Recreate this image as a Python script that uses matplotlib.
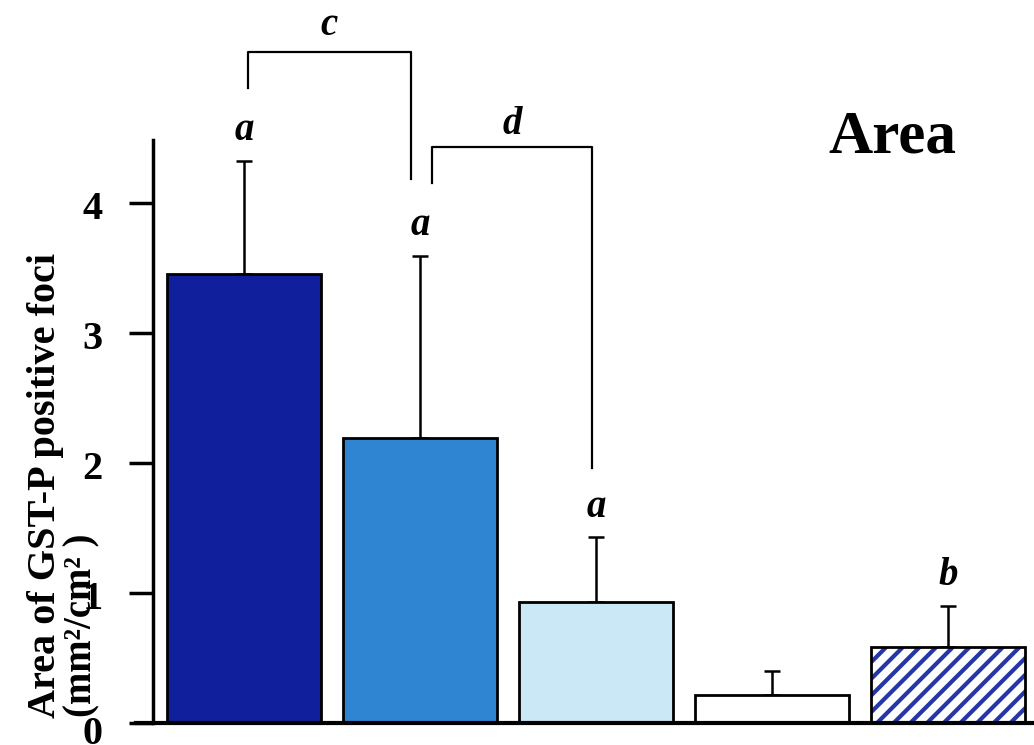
import matplotlib.pyplot as plt
import numpy as np

plt.rcParams['font.family'] = ['Liberation Serif', 'DejaVu Serif']
plt.rcParams['font.weight'] = 'bold'
plt.rcParams['hatch.linewidth'] = 3.0

# group means and SD (upper only)
means = [3.45, 2.19, 0.93, 0.215, 0.585]
sds = [0.87, 1.40, 0.50, 0.185, 0.315]
letters = ['a', 'a', 'a', '', 'b']
yticks = [0, 1, 2, 3, 4]

fill = ['#101f9c', '#2f85d2', '#cbe8f6', 'white', 'white']
hatch = ['', '', '', '', '//']
hatch_col = '#2436a8'

fig = plt.figure(figsize=(10.34, 7.45), dpi=100)
ax = fig.add_axes([0.148, 0.0295, 0.852, 0.7825])

x = np.arange(len(means))
# fill + hatch layer (hatch takes the edge colour), then black outlines
ax.bar(x, means, width=0.875, color=fill, edgecolor=hatch_col,
       linewidth=0, hatch=hatch, zorder=2)
ax.bar(x, means, width=0.875, fill=False, edgecolor='black',
       linewidth=2, zorder=3)

ax.errorbar(x, means, yerr=[np.zeros(len(sds)), sds], fmt='none',
            ecolor='black', elinewidth=1.8, capsize=6, capthick=1.8, zorder=1)

for xi, m, s, lab in zip(x, means, sds, letters):
    if lab:
        ax.text(xi, m + s + 0.23, lab, ha='center', va='center',
                fontsize=28, style='italic', weight='bold')

# comparison brackets
def bracket(x0, x1, top, y0, y1, label, ly):
    ax.plot([x0, x0, x1, x1], [y0, top, top, y1], color='black', lw=1.6,
            clip_on=False)
    ax.text((x0 + x1) / 2, ly, label, ha='center', va='center', fontsize=28,
            style='italic', weight='bold', clip_on=False)

bracket(0.02, 0.95, 5.16, 4.88, 4.18, 'c', 5.36)
bracket(1.07, 1.98, 4.43, 4.15, 1.96, 'd', 4.60)

ax.set_xlim(-0.517, 4.49)
ax.set_ylim(0, 4.48)
ax.set_xticks([])
ax.set_yticks(yticks)
ax.set_yticklabels([])
ax.tick_params(axis='y', direction='out', length=17, width=2.5)
# tick labels sit a little below their ticks
for t in yticks:
    dy = 0.09 if t == 0 else 0.05
    ax.text(-0.057, t - dy, str(t), transform=ax.get_yaxis_transform(),
            ha='right', va='center', fontsize=29, weight='bold')
ax.spines['top'].set_visible(False)
ax.spines['right'].set_visible(False)
ax.spines['left'].set_linewidth(2.5)
ax.spines['bottom'].set_linewidth(3)
ax.spines['bottom'].set_bounds(-0.615, 4.49)

fig.text(0.044, 0.036, 'Area of GST-P positive foci', rotation=90,
         ha='center', va='bottom', fontsize=29, weight='bold')
fig.text(0.079, 0.038, '(mm²/cm² )', rotation=90,
         ha='center', va='bottom', fontsize=28, weight='bold')

fig.text(0.863, 0.795, 'Area', ha='center', va='baseline', fontsize=44,
         weight='bold')

fig.savefig('out.png', dpi=100)
